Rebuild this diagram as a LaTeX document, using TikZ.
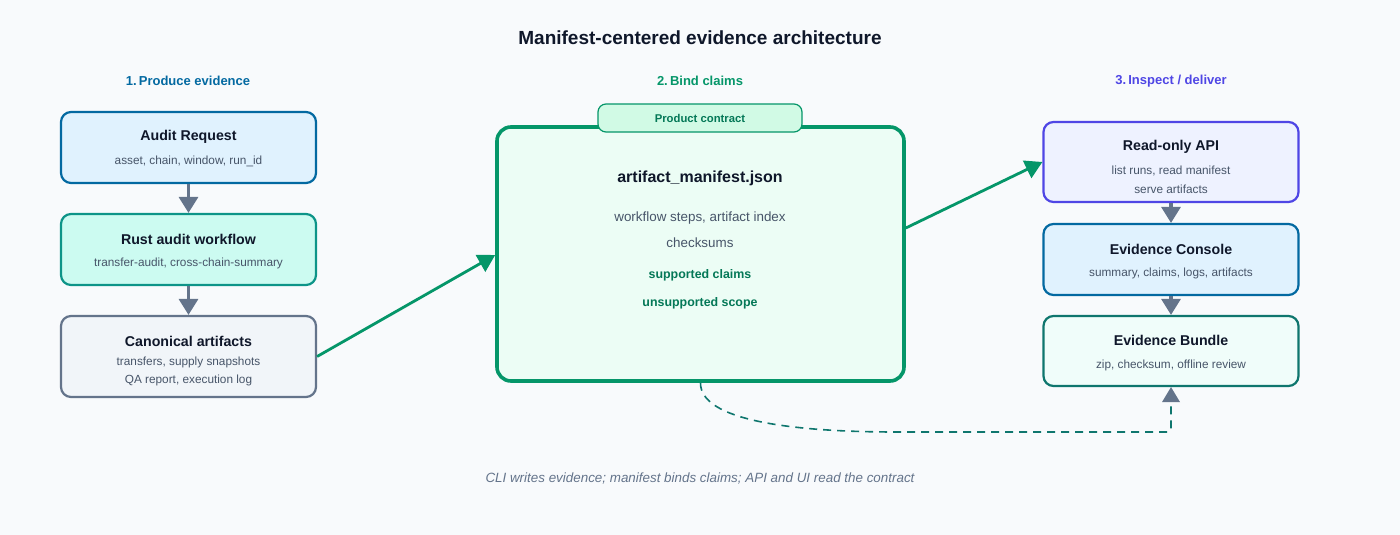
\documentclass[tikz,border=0pt]{standalone}
\usepackage{fontspec}
\setmainfont{Liberation Sans}
\usetikzlibrary{arrows.meta}
\definecolor{bg}{HTML}{F8FAFC}
\definecolor{ink}{HTML}{0F172A}
\definecolor{subt}{HTML}{475569}
\definecolor{blueB}{HTML}{0369A1}
\definecolor{blueF}{HTML}{E0F2FE}
\definecolor{tealB}{HTML}{0D9488}
\definecolor{tealF}{HTML}{CCFBF1}
\definecolor{grayB}{HTML}{64748B}
\definecolor{grayF}{HTML}{F1F5F9}
\definecolor{greenB}{HTML}{059669}
\definecolor{greenF}{HTML}{ECFDF5}
\definecolor{tabF}{HTML}{D1FAE5}
\definecolor{greenT}{HTML}{047857}
\definecolor{indB}{HTML}{4F46E5}
\definecolor{indF}{HTML}{EEF2FF}
\definecolor{bunB}{HTML}{0F766E}
\definecolor{bunF}{HTML}{F0FDFA}
\tikzset{
  box/.style={draw, line width=2.2pt, rounded corners=10pt, minimum width=255pt, inner sep=0pt},
  ttl/.style={font=\fontsize{14.2}{17}\selectfont\bfseries, text=ink, inner sep=0pt},
  sub/.style={font=\fontsize{11.8}{18}\selectfont, text=subt, inner sep=0pt, align=center},
  hdr/.style={font=\fontsize{13}{16}\selectfont\bfseries, inner sep=0pt},
  grayarrow/.style={draw=grayB, line width=3.2pt, -{Triangle[width=19pt,length=16pt]}, color=grayB},
  greenarrow/.style={draw=greenB, line width=2.8pt, -{Triangle[width=19pt,length=17pt]}},
}
\begin{document}
\begin{tikzpicture}[x=1pt,y=-1pt]
\fill[bg] (0,0) rectangle (1400,535);
\useasboundingbox (0,0) rectangle (1400,535);

\node[font=\fontsize{19}{23}\selectfont\bfseries, text=ink, inner sep=0pt] (title) at (700,38) {Manifest-centered evidence architecture};
\node[hdr, text=blueB] (h1) at (188,81) {1.\,Produce evidence};
\node[hdr, text=greenB] (h2) at (700,81) {2.\,Bind claims};
\node[hdr, text=indB] (h3) at (1171,81) {3.\,Inspect / deliver};

% left column
\node[box, draw=blueB, fill=blueF, minimum height=71pt] (req) at (188.5,147.5) {};
\node[ttl] (reqT) at (188.5,137) {Audit Request};
\node[sub] (reqS) at (188.5,161) {asset, chain, window, run\_id};

\node[box, draw=tealB, fill=tealF, minimum height=71pt] (rust) at (188.5,249.5) {};
\node[ttl] (rustT) at (188.5,239) {Rust audit workflow};
\node[sub] (rustS) at (188.5,263) {transfer-audit, cross-chain-summary};

\node[box, draw=grayB, fill=grayF, minimum height=81pt] (canon) at (188.5,356.5) {};
\node[ttl] (canonT) at (188.5,341) {Canonical artifacts};
\node[sub] (canonS1) at (188.5,362) {transfers, supply snapshots};
\node[sub] (canonS2) at (188.5,380) {QA report, execution log};

\draw[grayarrow] (req.south) -- (rust.north);
\draw[grayarrow] (rust.south) -- (canon.north);

% main
\node[draw=greenB, fill=greenF, line width=3.6pt, rounded corners=14pt, minimum width=407pt, minimum height=254pt, inner sep=0pt] (man) at (700.5,254) {};
\node[draw=greenB, fill=tabF, line width=1.2pt, rounded corners=8pt, minimum width=204pt, minimum height=28pt, inner sep=0pt, font=\fontsize{11.3}{13}\selectfont\bfseries, text=greenT] (tab) at (700,118) {Product contract};
\node[font=\fontsize{16}{19}\selectfont\bfseries, text=ink, inner sep=0pt] (manT) at (700,178) {artifact\_manifest.json};
\node[sub, font=\fontsize{13.4}{16}\selectfont] (manS1) at (700,218) {workflow steps, artifact index};
\node[sub, font=\fontsize{13.4}{16}\selectfont] (manS2) at (700,243) {checksums};
\node[font=\fontsize{12.4}{16}\selectfont\bfseries, text=greenT, inner sep=0pt] (manS3) at (700,275) {supported claims};
\node[font=\fontsize{12.4}{16}\selectfont\bfseries, text=greenT, inner sep=0pt] (manS4) at (700,303) {unsupported scope};

% right column
\node[box, draw=indB, fill=indF, minimum height=80pt] (api) at (1171,162) {};
\node[ttl] (apiT) at (1171,147) {Read-only API};
\node[sub] (apiS1) at (1171,171) {list runs, read manifest};
\node[sub] (apiS2) at (1171,189) {serve artifacts};

\node[box, draw=blueB, fill=blueF, minimum height=71pt] (con) at (1171,259.5) {};
\node[ttl] (conT) at (1171,249) {Evidence Console};
\node[sub] (conS) at (1171,273) {summary, claims, logs, artifacts};

\node[box, draw=bunB, fill=bunF, minimum height=70pt] (bun) at (1171,351) {};
\node[ttl] (bunT) at (1171,340) {Evidence Bundle};
\node[sub] (bunS) at (1171,365) {zip, checksum, offline review};

\draw[grayarrow] (api.south) -- (con.north);
\draw[grayarrow] (con.south) -- (bun.north);

% green connectors
\draw[greenarrow] (canon.east) -- (man.west |- 0,255);
\draw[greenarrow] (man.east |- 0,228) -- (api.west);

% dashed
\coordinate (dc) at (1171,432);
\draw[draw=bunB, line width=1.6pt, dash pattern=on 8pt off 6pt, rounded corners=3pt]
  (man.south) .. controls (700,420) and (790,432) .. (900,432) -- (dc) -- ([yshift=-15pt]bun.south);
\draw[draw=none, fill=grayB] (bun.south) -- ++(-9,15) -- ++(18,0) -- cycle;

\node[font=\fontsize{13.4}{16}\selectfont\itshape, text=grayB, inner sep=0pt] (foot) at (700,478) {CLI writes evidence; manifest binds claims; API and UI read the contract};
\end{tikzpicture}
\end{document}
